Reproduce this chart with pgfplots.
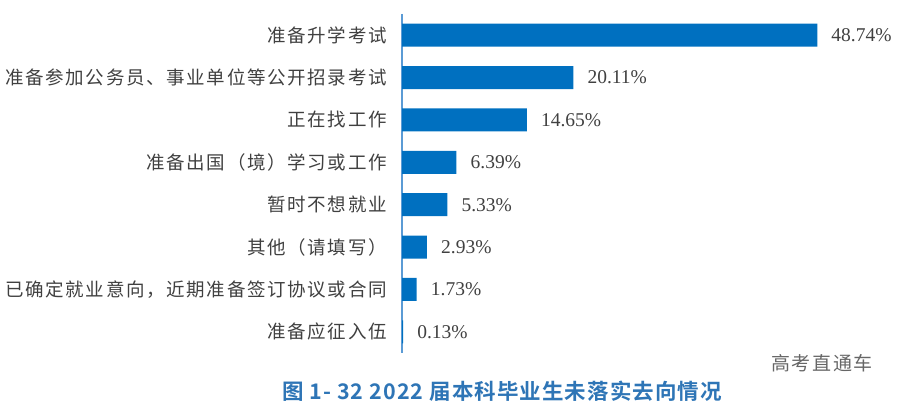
\documentclass[border=0pt]{standalone}
\usepackage{pgfplots}
\pgfplotsset{compat=1.18}
\usepackage{fontspec}
\setmainfont{Liberation Serif}
\newfontfamily\cjk{Noto Sans CJK SC}[LetterSpace=9]
\newfontfamily\cjkwm{Noto Sans CJK SC}[LetterSpace=8]
\newfontfamily\cjkbold{Noto Sans CJK SC Bold}[LetterSpace=5]
\definecolor{barblue}{HTML}{0070C0}
\definecolor{axblue}{HTML}{5B9BD5}
\definecolor{txtgray}{HTML}{404040}
\definecolor{capblue}{HTML}{2E75B6}
\definecolor{wmgray}{HTML}{666666}
\begin{document}
\begin{tikzpicture}
\useasboundingbox (0,0) rectangle (922bp,403bp);
\begin{axis}[
  at={(402bp,50bp)}, anchor=south west,
  scale only axis, width=520bp, height=339bp,
  xmin=0, xmax=61.03, ymin=-0.5, ymax=7.5,
  y dir=reverse,
  hide x axis,
  axis y line*=left,
  y axis line style={color=axblue, line width=1.3bp, -},
  ytick={0,...,7},
  yticklabels={准备升学考试,准备参加公务员、事业单位等公开招录考试,正在找工作,准备出国（境）学习或工作,暂时不想就业,其他（请填写）,已确定就业意向，近期准备签订协议或合同,准备应征入伍},
  yticklabel style={font=\cjk\fontsize{18.5bp}{20bp}\selectfont, text=txtgray, inner sep=0pt, xshift=-15bp},
  major tick length=0pt,
  ytick style={draw=none},
  xbar, bar width=0.545,
  clip=false,
  /pgf/number format/assume math mode=true,
  nodes near coords={\pgfmathprintnumber[fixed,fixed zerofill,precision=2]{\pgfplotspointmeta}\%},
  nodes near coords style={font=\fontsize{19.5bp}{21bp}\selectfont, text=txtgray, anchor=west, inner sep=0pt, xshift=14bp},
]
\addplot[fill=barblue, draw=none] coordinates {
  (48.74,0) (20.11,1) (14.65,2) (6.39,3) (5.33,4) (2.93,5) (1.73,6) (0.13,7)
};
\end{axis}
\node[font=\cjkbold\fontsize{21.5bp}{24bp}\selectfont, text=capblue] at (502bp,12bp) {图 1- 32 2022 届本科毕业生未落实去向情况};
\node[font=\cjkwm\fontsize{19bp}{22bp}\selectfont, text=wmgray] at (822bp,40bp) {高考直通车};
\end{tikzpicture}
\end{document}
